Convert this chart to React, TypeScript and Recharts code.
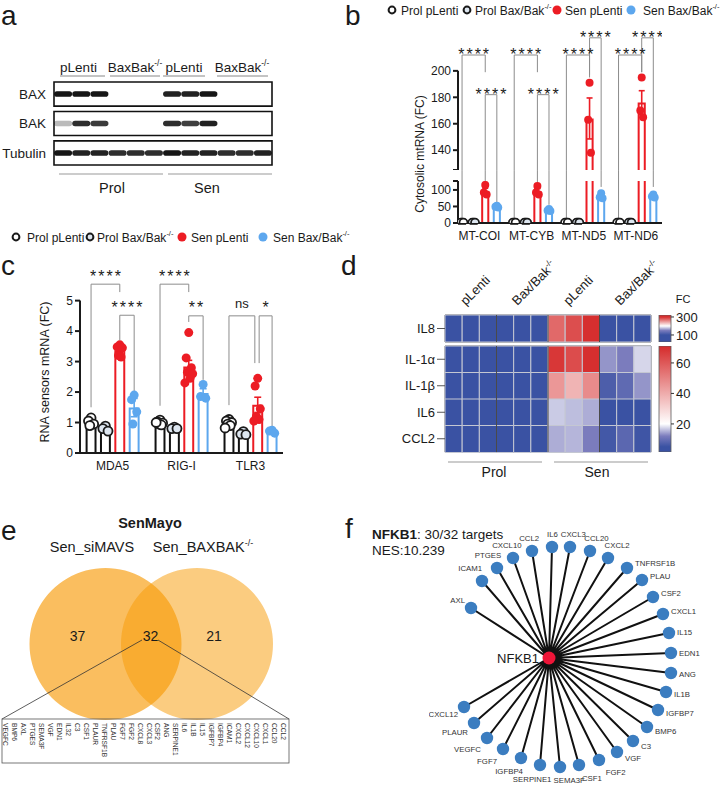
'use client';

import {
  ComposedChart,
  BarChart,
  ScatterChart,
  PieChart,
  Pie,
  Bar,
  Scatter,
  XAxis,
  YAxis,
  Cell,
  ErrorBar,
  ReferenceLine,
  ReferenceArea,
} from 'recharts';

// ============================================================================
// Shared
// ============================================================================

const FONT = '"Liberation Sans", Arial, Helvetica, sans-serif';
const INK = '#1a1a1a';

const GROUPS = ['Prol pLenti', 'Prol Bax/Bak', 'Sen pLenti', 'Sen Bax/Bak'];
const GROUP_SUP = ['', '-/-', '', '-/-'];
const GROUP_STROKE = ['#111111', '#111111', '#ec1c24', '#5da7ee'];
const GROUP_FILL = ['#ffffff', '#dde6f0', '#ec1c24', '#5da7ee'];
const JITTER = [0, -1, 1, -0.5, 0.5, -1.5, 1.5];

// ============================================================================
// Panel a - western blot
// ============================================================================

const BLOT_ROWS = ['BAX', 'BAK', 'Tubulin'];
const BLOT_LEVELS = [
  [1, 1, 1, 0, 0, 0, 0.95, 0.95, 1, 0, 0, 0],
  [0.3, 0.9, 0.85, 0, 0, 0, 0.9, 0.8, 0.95, 0, 0, 0],
  [1, 0.95, 0.95, 0.9, 0.9, 0.9, 1, 0.95, 0.95, 0.9, 0.9, 0.95],
];
const BLOT_HEADERS = ['pLenti', 'BaxBak', 'pLenti', 'BaxBak'];
const BLOT_HEADER_SUP = ['', '-/-', '', '-/-'];
const COHORTS = ['Prol', 'Sen'];

// ============================================================================
// Panel b - cytosolic mtRNA
// ============================================================================

const MT_GENES = ['MT-COI', 'MT-CYB', 'MT-ND5', 'MT-ND6'];
const MT_MEAN = [
  [1, 1, 97, 50],
  [1, 1, 96, 39],
  [1, 1, 164, 81],
  [1, 1, 176, 81],
];
const MT_SEM = [
  [0.3, 0.3, 8, 2],
  [0.3, 0.3, 8, 2],
  [0.3, 0.3, 15.5, 5],
  [0.3, 0.3, 9, 3],
];
const MT_POINTS = [
  [[1, 1, 1], [1, 1, 1], [115, 92, 86], [52, 49, 47]],
  [[1, 1, 1], [1, 1, 1], [112, 92, 86], [42, 38, 36]],
  [[1, 1, 1], [1, 1, 1], [191, 163, 138], [90, 78, 75]],
  [[1, 1, 1], [1, 1, 1], [195, 170, 165], [86, 80, 77]],
];
const MT_BRACKETS = [
  { gene: 0, from: 0, to: 2, top: 212, ends: [8, 199], label: '****' },
  { gene: 0, from: 2, to: 3, top: 182, ends: [124, 62], label: '****' },
  { gene: 1, from: 0, to: 2, top: 212, ends: [8, 199], label: '****' },
  { gene: 1, from: 2, to: 3, top: 182, ends: [120, 55], label: '****' },
  { gene: 2, from: 0, to: 2, top: 212, ends: [8, 197], label: '****' },
  { gene: 2, from: 2, to: 3, top: 225, ends: [195, 109], label: '****' },
  { gene: 3, from: 0, to: 2, top: 212, ends: [8, 199], label: '****' },
  { gene: 3, from: 2, to: 3, top: 225, ends: [199, 109], label: '****' },
];
const MT_UPPER_TICKS = [125, 140, 160, 180, 200];
const MT_LOWER_TICKS = [0, 50, 100, 127];

// ============================================================================
// Panel c - RNA sensors
// ============================================================================

const RNA_GENES = ['MDA5', 'RIG-I', 'TLR3'];
const RNA_MEAN = [
  [1.01, 0.8, 3.37, 1.49],
  [0.99, 0.82, 2.84, 1.97],
  [0.97, 0.64, 1.58, 0.71],
];
const RNA_SEM = [
  [0.05, 0.05, 0.08, 0.3],
  [0.03, 0.03, 0.2, 0.14],
  [0.04, 0.03, 0.25, 0.03],
];
const RNA_POINTS = [
  [[1.15, 1.05, 0.95, 0.9], [0.88, 0.8, 0.72], [3.55, 3.48, 3.45, 3.2, 3.15], [1.9, 1.75, 1.35, 0.95]],
  [[1.08, 1.02, 0.98, 0.95, 0.92, 1.0], [0.85, 0.8, 0.8], [3.95, 3.12, 2.8, 2.65, 2.45, 2.3, 2.6], [2.25, 1.85, 1.8]],
  [[1.1, 1.05, 1.0, 0.95, 0.9, 0.82], [0.7, 0.62, 0.6], [2.45, 2.2, 1.45, 1.2, 1.1, 1.05], [0.75, 0.72, 0.65]],
];
const RNA_BRACKETS = [
  { gene: 0, from: 0, to: 2, top: 5.54, ends: [1.5, 5.28], label: '****' },
  { gene: 0, from: 2, to: 3, top: 4.52, ends: [3.7, 2.0], label: '****' },
  { gene: 1, from: 0, to: 2, top: 5.54, ends: [1.55, 5.28], label: '****' },
  { gene: 1, from: 2, to: 3, top: 4.5, ends: [4.3, 2.4], label: '**' },
  { gene: 2, from: 0, to: 1.8, top: 4.5, ends: [1.57, 2.95], label: 'ns' },
  { gene: 2, from: 2.1, to: 3, top: 4.5, ends: [2.95, 0.85], label: '*' },
];
const RNA_TICKS = [0, 1, 2, 3, 4, 5];

// ============================================================================
// Panel d - heatmap
// ============================================================================

const HEAT_COLUMNS = ['pLenti', 'Bax/Bak', 'pLenti', 'Bax/Bak'];
const HEAT_COLUMN_SUP = ['', '-/-', '', '-/-'];
const IL8_GENES = ['IL8'];
const IL8_VALUES = [[30, 28, 25, 32, 30, 28, 272, 285, 300, 35, 30, 28]];
const HEAT_GENES = ['IL-1α', 'IL-1β', 'IL6', 'CCL2'];
const HEAT_VALUES = [
  [3, 3, 3, 3, 3, 3, 68, 63, 70, 13.5, 12, 17.5],
  [3, 3, 3, 4, 5, 4, 45, 38, 48, 7, 9, 13.5],
  [3, 3, 3, 3, 3, 3, 16.8, 16, 15, 4, 4, 5],
  [3, 3, 3, 3, 3, 3, 15, 15.5, 12, 6, 8.5, 5.5],
];
const IL8_TICKS = [100, 300];
const HEAT_TICKS = [20, 40, 60];

const BLUE = [58, 82, 163];
const LAVENDER = [123, 124, 189];
const WHITE = [255, 255, 255];
const RED = [214, 47, 47];
const IL8_STOPS = [[100, BLUE], [150, LAVENDER], [200, WHITE], [300, RED]] as [number, number[]][];
const HEAT_STOPS = [[5, BLUE], [12, LAVENDER], [20, WHITE], [70, RED]] as [number, number[]][];

// ============================================================================
// Panel e - Venn
// ============================================================================

const VENN_SETS = ['Sen_siMAVS', 'Sen_BAXBAK'];
const VENN_SET_SUP = ['', '-/-'];
const VENN_COUNTS = [37, 32, 21];
const SHARED_GENES = [
  'VEGFC', 'BMP6', 'AXL', 'PTGES', 'SEMA3F', 'VGF', 'EDN1', 'IL32', 'C3', 'CSF1', 'PLAUR',
  'TNFRSF1B', 'PLAU', 'FGF7', 'FGF2', 'CXCL8', 'CXCL3', 'CSF2', 'ANG', 'SERPINE1', 'IL6',
  'IL1B', 'IL15', 'IGFBP7', 'IGFBP4', 'ICAM1', 'CXCL2', 'CXCL12', 'CXCL10', 'CXCL1', 'CCL20', 'CCL2',
];

// ============================================================================
// Panel f - NFKB1 network
// ============================================================================

const NFKB1_TARGETS = [
  'AXL', 'ICAM1', 'PTGES', 'CXCL10', 'CCL2', 'IL6', 'CXCL3', 'CCL20', 'CXCL2', 'TNFRSF1B',
  'PLAU', 'CSF2', 'CXCL1', 'IL15', 'EDN1', 'ANG', 'IL1B', 'IGFBP7', 'BMP6', 'C3',
  'VGF', 'FGF2', 'CSF1', 'SEMA3F', 'SERPINE1', 'IGFBP4', 'FGF7', 'VEGFC', 'PLAUR', 'CXCL12',
];
const NODE_X = [-78, -67, -52, -36, -17, 3, 21, 41, 59, 78, 93, 104, 114, 120, 122, 122, 117, 109, 98, 84, 68, 50, 30, 11, -9, -28, -46, -62, -75, -85];
const NODE_Y = [50, 77, 90, 100, 107, 111, 111, 107, 100, 90, 78, 61, 44, 25, 5, -15, -34, -52, -69, -83, -94, -102, -107, -109, -107, -100, -91, -80, -65, -49];

// ============================================================================
// Helpers
// ============================================================================

function rgb(c: number[]) {
  return `rgb(${Math.round(c[0])},${Math.round(c[1])},${Math.round(c[2])})`;
}

function heatColor(stops: [number, number[]][], v: number) {
  if (v <= stops[0][0]) return rgb(stops[0][1]);
  for (let i = 1; i < stops.length; i++) {
    const [v1, c1] = stops[i];
    if (v <= v1) {
      const [v0, c0] = stops[i - 1];
      const t = (v - v0) / (v1 - v0);
      return rgb(c0.map((c, k) => c + (c1[k] - c) * t));
    }
  }
  return rgb(stops[stops.length - 1][1]);
}

function gradientStops(stops: [number, number[]][], domain: [number, number]) {
  const [lo, hi] = domain;
  const out = [{ offset: 0, color: heatColor(stops, hi) }];
  stops
    .map(([v]) => ({ offset: (hi - v) / (hi - lo), color: heatColor(stops, v) }))
    .filter((s) => s.offset > 0 && s.offset < 1)
    .sort((a, b) => a.offset - b.offset)
    .forEach((s) => out.push(s));
  out.push({ offset: 1, color: heatColor(stops, lo) });
  return out;
}

function buildBars(means: number[][], sems: number[][], step: number) {
  return means.flatMap((row, g) => row.map((mean, j) => ({ x: g * step + j, mean, sem: sems[g][j], group: j })));
}

function buildDots(points: number[][][], step: number, spread: number) {
  return points.flatMap((row, g) =>
    row.flatMap((vals, j) =>
      vals.map((y, i) => ({ x: g * step + j + JITTER[i % JITTER.length] * spread, y, group: j })),
    ),
  );
}

type Part = { xa: number; xb: number; top: number; ends: number[]; label: string };
type Seg = { x1: number; y1: number; x2: number; y2: number };
type Area = { x1: number; x2: number; y1: number; y2: number; group: number; cut: boolean };

function bracketParts(brackets: typeof MT_BRACKETS, step: number): Part[] {
  return brackets.map((b) => ({
    xa: b.gene * step + b.from,
    xb: b.gene * step + b.to,
    top: b.top,
    ends: b.ends,
    label: b.label,
  }));
}

function bracketSegs(parts: Part[], floor: number): Seg[] {
  return parts.flatMap((p) => [
    { x1: p.xa, y1: p.top, x2: p.xb, y2: p.top },
    { x1: p.xa, y1: p.top, x2: p.xa, y2: Math.max(p.ends[0], floor) },
    { x1: p.xb, y1: p.top, x2: p.xb, y2: Math.max(p.ends[1], floor) },
  ]);
}

// leg pieces that continue below the axis break
function lowerLegs(parts: Part[], floor: number, join: number): Seg[] {
  return parts.flatMap((p) =>
    [
      [p.xa, p.ends[0]],
      [p.xb, p.ends[1]],
    ]
      .filter(([, e]) => e < floor)
      .map(([x, e]) => ({ x1: x, y1: join, x2: x, y2: e })),
  );
}

// bar outlines as areas between a base and the (clamped) mean
function barAreas(bars: ReturnType<typeof buildBars>, half: number, base: number, ceil: number): Area[] {
  return bars
    .filter((b) => b.mean > base)
    .map((b) => ({
      x1: b.x - half,
      x2: b.x + half,
      y1: base,
      y2: Math.min(b.mean, ceil),
      group: b.group,
      cut: b.mean > ceil,
    }));
}

function Sup({ base, sup, size }: { base: string; sup: string; size: number }) {
  return (
    <>
      {base}
      {sup ? (
        <tspan dy={-size * 0.42} fontSize={size * 0.62}>
          {sup}
        </tspan>
      ) : null}
    </>
  );
}

// ============================================================================
// Bar + dot chart (panels b and c)
// ============================================================================

function OpenBar({ x, y, width, height, color, cut }: any) {
  if (![x, y, width, height].every(Number.isFinite)) return <g />;
  const x0 = x + 1;
  const x1 = x + width - 1;
  const yb = y + height;
  const d = cut
    ? `M${x0},${y} L${x0},${yb} M${x1},${y} L${x1},${yb}`
    : `M${x0},${yb} L${x0},${y + 1} L${x1},${y + 1} L${x1},${yb}`;
  return <path d={d} fill="none" stroke={color} strokeWidth={2} />;
}

interface DotBarProps {
  width: number;
  height: number;
  margin: { top: number; right: number; bottom: number; left: number };
  yWidth: number;
  xDomain: [number, number];
  yDomain: [number, number];
  yTicks: number[];
  yBlank?: number;
  axisSpan?: [number, number];
  xTicks?: number[];
  xLabels?: string[];
  areas: Area[];
  means: { x: number; y: number; sem: number; group: number }[];
  dots: { x: number; y: number; group: number }[];
  segs: Seg[];
  tags: { x: number; y: number; label: string }[];
  dotR: number;
  cap: number;
  lift: number;
}

function DotBarChart(p: DotBarProps) {
  const tickStyle = { fontSize: 12, fill: INK, fontFamily: FONT };
  return (
    <ComposedChart width={p.width} height={p.height} margin={p.margin}>
      <XAxis
        type="number"
        dataKey="x"
        domain={p.xDomain}
        allowDataOverflow
        hide={!p.xTicks}
        ticks={p.xTicks}
        interval={0}
        tickFormatter={(_v: number, i: number) => (p.xLabels ? p.xLabels[i] : '')}
        tickLine={false}
        axisLine={{ stroke: INK, strokeWidth: 2 }}
        tick={tickStyle}
        height={25}
      />
      <YAxis
        type="number"
        domain={p.yDomain}
        allowDataOverflow
        ticks={p.yTicks}
        interval={0}
        tickFormatter={(v: number) => (v === p.yBlank ? '' : String(v))}
        axisLine={p.axisSpan ? false : { stroke: INK, strokeWidth: 2 }}
        tickLine={{ stroke: INK, strokeWidth: 2 }}
        tickSize={5}
        tick={tickStyle}
        width={p.yWidth}
      />
      {p.axisSpan && (
        <ReferenceLine
          segment={[
            { x: p.xDomain[0], y: p.axisSpan[0] },
            { x: p.xDomain[0], y: p.axisSpan[1] },
          ]}
          stroke={INK}
          strokeWidth={2}
          ifOverflow="visible"
        />
      )}
      {p.segs.map((s, i) => (
        <ReferenceLine
          key={`s${i}`}
          segment={[
            { x: s.x1, y: s.y1 },
            { x: s.x2, y: s.y2 },
          ]}
          stroke="#8c8c8c"
          strokeWidth={1}
          ifOverflow="visible"
        />
      ))}
      {p.areas.map((a, i) => (
        <ReferenceArea
          key={`b${i}`}
          x1={a.x1}
          x2={a.x2}
          y1={a.y1}
          y2={a.y2}
          ifOverflow="visible"
          shape={(r: any) => <OpenBar {...r} color={GROUP_STROKE[a.group]} cut={a.cut} />}
        />
      ))}
      {GROUPS.map((_, j) => {
        const data = p.means.filter((m) => m.group === j);
        if (!data.length) return null;
        return (
          <Scatter key={`m${j}`} data={data} dataKey="y" isAnimationActive={false} shape={() => <g />}>
            <ErrorBar dataKey="sem" direction="y" width={p.cap} stroke={GROUP_STROKE[j]} strokeWidth={1.6} />
          </Scatter>
        );
      })}
      {GROUPS.map((_, j) => {
        const data = p.dots.filter((d) => d.group === j);
        if (!data.length) return null;
        return (
          <Scatter
            key={`d${j}`}
            data={data}
            dataKey="y"
            isAnimationActive={false}
            shape={(s: any) => (
              <circle
                cx={s.cx}
                cy={s.cy}
                r={p.dotR}
                fill={GROUP_FILL[j]}
                stroke={j < 2 ? INK : 'none'}
                strokeWidth={1.8}
              />
            )}
          />
        );
      })}
      {p.tags.length > 0 && (
        <Scatter
          data={p.tags}
          dataKey="y"
          isAnimationActive={false}
          shape={(s: any) => {
            const isNs = s.payload.label === 'ns';
            const fs = isNs ? 13 : 16;
            return (
              <text
                x={s.cx + (isNs ? 0 : 1)}
                y={s.cy - p.lift + (isNs ? 0.27 : 0.57) * fs}
                textAnchor="middle"
                fontSize={fs}
                fontFamily={FONT}
                fill={INK}
                letterSpacing={isNs ? 0 : 2}
              >
                {s.payload.label}
              </text>
            );
          }}
        />
      )}
    </ComposedChart>
  );
}

// ---------- panel b data prep ----------
const STEP_B = 4.5;
const HALF_B = 0.35;
const XDOM_B: [number, number] = [-0.35, 17.25];
const B_FLOOR = 125;
const B_CEIL = 127;
const B_JOIN = 160;
const MT_BARS = buildBars(MT_MEAN, MT_SEM, STEP_B);
const MT_DOTS = buildDots(MT_POINTS, STEP_B, 0.12);
const MT_PARTS = bracketParts(MT_BRACKETS, STEP_B);
const MT_TAGS = MT_PARTS.map((q) => ({ x: (q.xa + q.xb) / 2, y: q.top, label: q.label }));
const MT_MEANS = MT_BARS.map((b) => ({ x: b.x, y: b.mean, sem: b.sem, group: b.group }));

// ---------- panel c data prep ----------
const STEP_C = 4.8;
const HALF_C = 0.38;
const XDOM_C: [number, number] = [-0.77, 13.36];
const RNA_BARS = buildBars(RNA_MEAN, RNA_SEM, STEP_C);
const RNA_DOTS = buildDots(RNA_POINTS, STEP_C, 0.18);
const RNA_PARTS = bracketParts(RNA_BRACKETS as typeof MT_BRACKETS, STEP_C);
const RNA_TAGS = RNA_PARTS.map((q) => ({ x: (q.xa + q.xb) / 2, y: q.top, label: q.label }));
const RNA_MEANS = RNA_BARS.map((b) => ({ x: b.x, y: b.mean, sem: b.sem, group: b.group }));

// ============================================================================
// Panels
// ============================================================================

function BlotChart() {
  const bands = BLOT_LEVELS.flatMap((row, r) =>
    row.map((v, l) => ({ x: l + 1, y: r, v })).filter((b) => b.v > 0),
  );
  return (
    <ScatterChart width={282} height={103} margin={{ top: 10, right: 10, bottom: 10, left: 0 }}>
      <XAxis type="number" dataKey="x" domain={[0.5, 12.5]} hide />
      <YAxis
        type="number"
        dataKey="y"
        domain={[-0.41, 2.41]}
        reversed
        ticks={[0, 1, 2]}
        interval={0}
        tickFormatter={(v: number) => BLOT_ROWS[v]}
        axisLine={false}
        tickLine={false}
        tick={{ fontSize: 13.5, fill: INK, fontFamily: FONT }}
        width={54}
      />
      {BLOT_ROWS.map((name, r) => (
        <ReferenceArea
          key={name}
          x1={0.5}
          x2={12.5}
          y1={r - 0.41}
          y2={r + 0.41}
          fill="none"
          fillOpacity={0}
          stroke="#111"
          strokeWidth={1.6}
        />
      ))}
      <Scatter
        data={bands}
        isAnimationActive={false}
        shape={(s: any) => (
          <rect
            x={s.cx - 9}
            y={s.cy - 2.8}
            width={18}
            height={5.6}
            rx={2.8}
            fill="#141414"
            fillOpacity={s.payload.v}
            filter="url(#bandBlur)"
          />
        )}
      />
    </ScatterChart>
  );
}

function HeatChart({ genes, values, stops, height }: { genes: string[]; values: number[][]; stops: [number, number[]][]; height: number }) {
  const data = genes.map((gene) => {
    const row: Record<string, string | number> = { gene };
    values[0].forEach((_, j) => {
      row[`c${j}`] = 1;
    });
    return row;
  });
  return (
    <BarChart
      layout="vertical"
      width={266}
      height={height}
      data={data}
      margin={{ top: 10, right: 10, bottom: 10, left: 0 }}
      barCategoryGap={0}
      barGap={0}
    >
      <XAxis type="number" domain={[0, 12]} hide />
      <YAxis
        type="category"
        dataKey="gene"
        width={50}
        axisLine={false}
        tickSize={8}
        tickLine={{ stroke: '#555' }}
        tick={{ fontSize: 13, fill: INK, fontFamily: FONT }}
      />
      {values[0].map((_, j) => (
        <Bar key={j} dataKey={`c${j}`} stackId="heat" isAnimationActive={false}>
          {values.map((row, i) => (
            <Cell key={i} fill={heatColor(stops, row[j])} stroke="#c4c7d2" strokeWidth={1} />
          ))}
        </Bar>
      ))}
      {[3, 6, 9].map((x) => (
        <ReferenceLine key={x} x={x} stroke="#4a4a4a" strokeWidth={1} />
      ))}
      <ReferenceArea x1={0} x2={12} fill="none" fillOpacity={0} stroke="#4a4a4a" strokeWidth={1} />
    </BarChart>
  );
}

function ColorBar({ domain, ticks, gradId, height }: { domain: [number, number]; ticks: number[]; gradId: string; height: number }) {
  return (
    <BarChart
      width={56}
      height={height}
      data={[{ k: 'fc', v: domain[1] }]}
      margin={{ top: 10, right: 0, bottom: 10, left: 4 }}
      barCategoryGap={0}
    >
      <XAxis type="category" dataKey="k" hide />
      <YAxis
        type="number"
        orientation="right"
        domain={domain}
        allowDataOverflow
        ticks={ticks}
        interval={0}
        width={40}
        axisLine={false}
        tickSize={3}
        tickLine={{ stroke: '#333' }}
        tick={{ fontSize: 13, fill: INK, fontFamily: FONT }}
      />
      <Bar dataKey="v" fill={`url(#${gradId})`} stroke="#5a5a5a" strokeWidth={0.8} isAnimationActive={false} />
    </BarChart>
  );
}

function VennChart() {
  const totals = [VENN_COUNTS[0] + VENN_COUNTS[1], VENN_COUNTS[1] + VENN_COUNTS[2]];
  const opacity = [0.64, 0.51];
  return (
    <PieChart width={300} height={170} margin={{ top: 0, right: 0, bottom: 0, left: 0 }}>
      {VENN_SETS.map((name, i) => (
        <Pie
          key={name}
          data={[{ name, value: totals[i] }]}
          dataKey="value"
          cx={105.5 + i * 91.5}
          cy={84}
          innerRadius={0}
          outerRadius={76}
          startAngle={90}
          endAngle={-270}
          fill="#f79a05"
          fillOpacity={opacity[i]}
          stroke="none"
          isAnimationActive={false}
        />
      ))}
    </PieChart>
  );
}

function NodeShape(props: any) {
  const { cx, cy, payload } = props;
  const len = Math.hypot(payload.x, payload.y) || 1;
  const ux = payload.x / len;
  const uy = -payload.y / len;
  let anchor: 'start' | 'middle' | 'end' = 'middle';
  let tx = cx;
  let ty = cy;
  if (ux > 0.55) {
    anchor = 'start';
    tx = cx + 8;
    ty = cy + 3 + uy * 7;
  } else if (ux < -0.75) {
    anchor = 'end';
    tx = cx - 6;
    ty = cy + 3 + uy * 14;
  } else if (uy < 0) {
    tx = cx + ux * 18;
    ty = cy - 10;
  } else {
    tx = cx + ux * 22 + (ux >= 0 ? 7 : -6);
    ty = cy + 12 + (1 - Math.abs(ux)) * 5;
  }
  return (
    <g>
      <circle cx={cx} cy={cy} r={6.2} fill="#3b7dc0" />
      <text x={tx} y={ty} textAnchor={anchor} fontSize={7.8} fill="#333" fontFamily={FONT}>
        {payload.name}
      </text>
    </g>
  );
}

function NetworkChart() {
  const nodes = NFKB1_TARGETS.map((name, i) => ({ name, x: NODE_X[i], y: NODE_Y[i] }));
  const hub = { name: 'NFKB1', x: 0, y: 0 };
  const edges = nodes.flatMap((n) => [hub, n]);
  return (
    <ScatterChart width={290} height={265} margin={{ top: 10, right: 30, bottom: 10, left: 20 }}>
      <XAxis type="number" dataKey="x" domain={[-100, 140]} hide />
      <YAxis type="number" dataKey="y" domain={[-120, 125]} hide />
      <Scatter data={edges} isAnimationActive={false} line={{ stroke: '#111', strokeWidth: 2 }} shape={() => <g />} />
      <Scatter data={nodes} isAnimationActive={false} shape={(s: any) => <NodeShape {...s} />} />
      <Scatter
        data={[hub]}
        isAnimationActive={false}
        shape={(s: any) => (
          <g>
            <circle cx={s.cx} cy={s.cy} r={6.5} fill="#ee1538" />
            <text x={s.cx - 10} y={s.cy + 5} textAnchor="end" fontSize={13} fill={INK} fontFamily={FONT}>
              {s.payload.name}
            </text>
          </g>
        )}
      />
    </ScatterChart>
  );
}

// ============================================================================
// Static text layer
// ============================================================================

function LegendRow({ y, markerX, textX }: { y: number; markerX: number[]; textX: number[] }) {
  return (
    <g>
      {GROUPS.map((g, j) => (
        <g key={g}>
          {j < 2 ? (
            <circle cx={markerX[j]} cy={y} r={3.4} fill={GROUP_FILL[j]} stroke={INK} strokeWidth={2} />
          ) : (
            <circle cx={markerX[j]} cy={y} r={4.5} fill={GROUP_FILL[j]} />
          )}
          <text x={textX[j]} y={y + 4.5} fontSize={12}>
            <Sup base={g} sup={GROUP_SUP[j]} size={12} />
          </text>
        </g>
      ))}
    </g>
  );
}

function Overlay() {
  const heatColX = HEAT_COLUMNS.map((_, k) => 445 + (3 * k + 1.5) * 17.17 - 5);
  return (
    <svg
      width={720}
      height={789}
      style={{ position: 'absolute', left: 0, top: 0, pointerEvents: 'none' }}
      fontFamily={FONT}
      fill={INK}
    >
      {/* panel letters */}
      <text x={1} y={25} fontSize={28}>a</text>
      <text x={345} y={25} fontSize={28}>b</text>
      <text x={1} y={275} fontSize={28}>c</text>
      <text x={341} y={275} fontSize={28}>d</text>
      <text x={1} y={540} fontSize={28}>e</text>
      <text x={345} y={538} fontSize={28}>f</text>

      {/* a: lane headers and cohorts */}
      {BLOT_HEADERS.map((h, k) => {
        const cx = [78.5, 135, 184, 242][k];
        const span = [[60, 105], [110, 160], [163, 205], [217, 268]][k];
        return (
          <g key={k}>
            <text x={cx} y={72} fontSize={13.5} textAnchor="middle">
              <Sup base={h} sup={BLOT_HEADER_SUP[k]} size={13.5} />
            </text>
            <line x1={span[0]} x2={span[1]} y1={76} y2={76} stroke="#888" strokeWidth={1} />
          </g>
        );
      })}
      {COHORTS.map((c, k) => (
        <g key={c}>
          <line x1={[59, 168][k]} x2={[163, 272][k]} y1={174} y2={174} stroke="#999" strokeWidth={1.2} />
          <text x={[112, 207][k]} y={193} fontSize={14.5} textAnchor="middle">{c}</text>
        </g>
      ))}

      {/* legends */}
      <LegendRow y={10} markerX={[392, 467, 557, 631]} textX={[401, 475, 565, 643]} />
      <LegendRow y={237} markerX={[16, 90, 182, 263]} textX={[27, 97, 191, 273]} />

      {/* axis titles */}
      <text transform="translate(424,154) rotate(-90)" fontSize={12} textAnchor="middle">Cytosolic mtRNA (FC)</text>
      <text transform="translate(49,372) rotate(-90)" fontSize={12.5} textAnchor="middle">RNA sensors mRNA (FC)</text>

      {/* d: column headers, cohorts, colorbar title */}
      {HEAT_COLUMNS.map((h, k) => (
        <text key={k} transform={`translate(${heatColX[k]},306) rotate(-45)`} fontSize={13}>
          <Sup base={h} sup={HEAT_COLUMN_SUP[k]} size={13} />
        </text>
      ))}
      {COHORTS.map((c, k) => (
        <g key={c}>
          <line x1={[448, 554][k]} x2={[542, 648][k]} y1={462} y2={462} stroke="#999" strokeWidth={1} />
          <text x={[494, 597][k]} y={477} fontSize={14} textAnchor="middle">{c}</text>
        </g>
      ))}
      <text x={683} y={303} fontSize={11} textAnchor="middle">FC</text>

      {/* e: Venn labels and gene box */}
      <text x={150} y={528} fontSize={14.5} fontWeight="bold" textAnchor="middle">SenMayo</text>
      {VENN_SETS.map((s, i) => (
        <text key={s} x={[92, 203][i]} y={552} fontSize={14.5} textAnchor="middle">
          <Sup base={s} sup={VENN_SET_SUP[i]} size={14.5} />
        </text>
      ))}
      {VENN_COUNTS.map((n, i) => (
        <text key={i} x={[77.5, 150.5, 214][i]} y={641} fontSize={14} textAnchor="middle">{n}</text>
      ))}
      <line x1={142} y1={640} x2={2} y2={719} stroke="#333" strokeWidth={0.8} />
      <line x1={158} y1={640} x2={289} y2={719} stroke="#333" strokeWidth={0.8} />
      <rect x={2} y={719} width={287} height={44} fill="none" stroke="#555" strokeWidth={0.8} />
      {SHARED_GENES.map((g, i) => (
        <text key={g} transform={`translate(${3 + i * 8.97},723) rotate(90)`} fontSize={6.6} fill="#333">
          {g}
        </text>
      ))}

      {/* f: title */}
      <text x={372} y={539} fontSize={13.5}>
        <tspan fontWeight="bold">NFKB1</tspan>: 30/32 targets
      </text>
      <text x={372} y={555} fontSize={13.5}>NES:10.239</text>
    </svg>
  );
}

function Defs() {
  const il8 = gradientStops(IL8_STOPS, [22, 322]);
  const heat = gradientStops(HEAT_STOPS, [1.6, 71.1]);
  return (
    <svg width={0} height={0} style={{ position: 'absolute' }}>
      <defs>
        <linearGradient id="il8Grad" x1="0" y1="0" x2="0" y2="1">
          {il8.map((s, i) => (
            <stop key={i} offset={s.offset} stopColor={s.color} />
          ))}
        </linearGradient>
        <linearGradient id="heatGrad" x1="0" y1="0" x2="0" y2="1">
          {heat.map((s, i) => (
            <stop key={i} offset={s.offset} stopColor={s.color} />
          ))}
        </linearGradient>
        <filter id="bandBlur" x="-20%" y="-100%" width="140%" height="300%">
          <feGaussianBlur stdDeviation="0.7" />
        </filter>
      </defs>
    </svg>
  );
}

// ============================================================================
// App
// ============================================================================

export default function App() {
  const geneCentersB = MT_GENES.map((_, g) => g * STEP_B + 1.5);
  const geneCentersC = RNA_GENES.map((_, g) => g * STEP_C + 1.5);

  return (
    <div
      style={{
        position: 'absolute',
        left: 0,
        top: 0,
        width: 720,
        height: 789,
        background: '#fff',
        fontFamily: FONT,
        overflow: 'hidden',
      }}
    >
      <Defs />

      <div style={{ position: 'absolute', left: 0, top: 72 }}>
        <BlotChart />
      </div>

      {/* b: upper segment of the broken axis */}
      <div style={{ position: 'absolute', left: 400, top: 0 }}>
        <DotBarChart
          width={272}
          height={170}
          margin={{ top: 18, right: 10, bottom: 0, left: 0 }}
          yWidth={58}
          xDomain={XDOM_B}
          yDomain={[B_FLOOR, 240]}
          yTicks={MT_UPPER_TICKS}
          yBlank={B_FLOOR}
          axisSpan={[B_FLOOR, 200]}
          areas={barAreas(MT_BARS, HALF_B, B_FLOOR, Infinity)}
          means={MT_MEANS.filter((m) => m.y - m.sem > B_FLOOR)}
          dots={MT_DOTS.filter((d) => d.y > B_FLOOR)}
          segs={bracketSegs(MT_PARTS, B_FLOOR)}
          tags={MT_TAGS}
          dotR={4}
          cap={3}
          lift={4}
        />
      </div>

      {/* b: lower segment */}
      <div style={{ position: 'absolute', left: 400, top: 166 }}>
        <DotBarChart
          width={272}
          height={82}
          margin={{ top: 15, right: 10, bottom: 0, left: 0 }}
          yWidth={58}
          xDomain={XDOM_B}
          yDomain={[0, B_CEIL]}
          yTicks={MT_LOWER_TICKS}
          yBlank={B_CEIL}
          xTicks={geneCentersB}
          xLabels={MT_GENES}
          areas={barAreas(MT_BARS, HALF_B, 0, B_CEIL)}
          means={MT_MEANS.filter((m) => m.y + m.sem <= B_CEIL)}
          dots={MT_DOTS.filter((d) => d.y <= B_CEIL)}
          segs={lowerLegs(MT_PARTS, B_FLOOR, B_JOIN)}
          tags={[]}
          dotR={4}
          cap={3}
          lift={4}
        />
      </div>

      {/* c */}
      <div style={{ position: 'absolute', left: 20, top: 251 }}>
        <DotBarChart
          width={273}
          height={227}
          margin={{ top: 10, right: 10, bottom: 0, left: 0 }}
          yWidth={60}
          xDomain={XDOM_C}
          yDomain={[0, 6.3]}
          yTicks={RNA_TICKS}
          axisSpan={[0, 5]}
          xTicks={geneCentersC}
          xLabels={RNA_GENES}
          areas={barAreas(RNA_BARS, HALF_C, 0, Infinity)}
          means={RNA_MEANS}
          dots={RNA_DOTS}
          segs={bracketSegs(RNA_PARTS, -Infinity)}
          tags={RNA_TAGS}
          dotR={4.5}
          cap={3.5}
          lift={11.5}
        />
      </div>

      {/* d */}
      <div style={{ position: 'absolute', left: 395, top: 305 }}>
        <HeatChart genes={IL8_GENES} values={IL8_VALUES} stops={IL8_STOPS} height={47} />
      </div>
      <div style={{ position: 'absolute', left: 395, top: 336 }}>
        <HeatChart genes={HEAT_GENES} values={HEAT_VALUES} stops={HEAT_STOPS} height={126} />
      </div>
      <div style={{ position: 'absolute', left: 655, top: 305 }}>
        <ColorBar domain={[22, 322]} ticks={IL8_TICKS} gradId="il8Grad" height={47} />
      </div>
      <div style={{ position: 'absolute', left: 655, top: 336 }}>
        <ColorBar domain={[1.6, 71.1]} ticks={HEAT_TICKS} gradId="heatGrad" height={126} />
      </div>

      {/* e */}
      <div style={{ position: 'absolute', left: 0, top: 560 }}>
        <VennChart />
      </div>

      {/* f */}
      <div style={{ position: 'absolute', left: 429, top: 523 }}>
        <NetworkChart />
      </div>

      <Overlay />
    </div>
  );
}
